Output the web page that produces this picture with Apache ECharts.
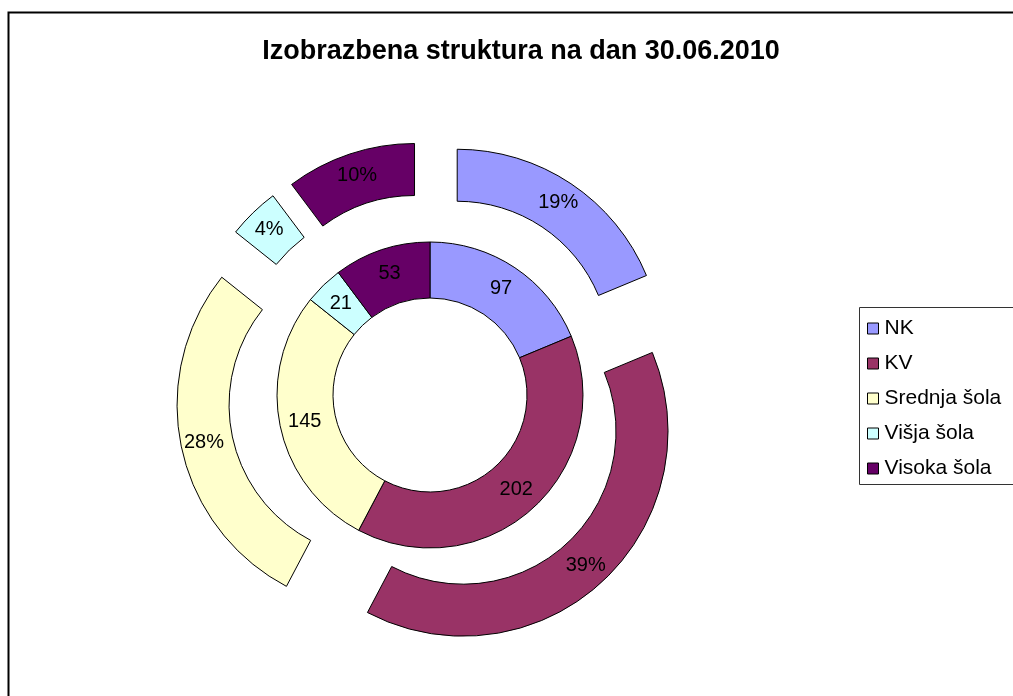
<!DOCTYPE html>
<html>
<head>
<meta charset="utf-8">
<script src="https://cdn.jsdelivr.net/npm/echarts@6/dist/echarts.min.js"></script>
<style>
  html, body { margin: 0; padding: 0; background: #fff; }
  #chart { width: 1013px; height: 696px; }
</style>
</head>
<body>
<div id="chart"></div>
<script>
const categories = ['NK', 'KV', 'Srednja šola', 'Višja šola', 'Visoka šola'];
const counts = [97, 202, 145, 21, 53];
const colors = ['#9999FF', '#993366', '#FFFFCC', '#CCFFFF', '#660066'];

const chart = echarts.init(document.getElementById('chart'));

const total = counts.reduce((a, b) => a + b, 0);

const option = {
  animation: false,
  color: colors,
  textStyle: { fontFamily: 'Liberation Sans, Arial, sans-serif' },
  title: {
    text: 'Izobrazbena struktura na dan 30.06.2010',
    left: 516,
    top: 33,
    textAlign: 'center',
    textStyle: { fontSize: 27, fontWeight: 'bold', color: '#000', fontFamily: 'Liberation Sans, Arial, sans-serif' },
  },
  legend: {
    orient: 'vertical',
    left: 862,
    top: 313,
    itemWidth: 11,
    itemHeight: 11,
    itemGap: 14,
    icon: 'rect',
    itemStyle: { borderColor: '#000', borderWidth: 1 },
    textStyle: { fontSize: 21, lineHeight: 21, color: '#000', padding: [0, 0, 0, 1] },
    data: categories,
  },
  graphic: [
    { type: 'rect', shape: { x: 8.5, y: 12.5, width: 1020, height: 700 }, style: { fill: 'none', stroke: '#000', lineWidth: 2 }, silent: true },
    { type: 'rect', shape: { x: 859.5, y: 307.5, width: 160, height: 177 }, style: { fill: 'none', stroke: '#333', lineWidth: 1 }, silent: true },
  ],
  series: [
    {
      name: 'inner',
      type: 'pie',
      center: [430, 395],
      radius: [97, 153],
      startAngle: 90,
      clockwise: true,
      silent: true,
      label: { position: 'inside', formatter: '{c}', fontSize: 20, color: '#000' },
      labelLine: { show: false },
      itemStyle: { borderColor: '#000', borderWidth: 1 },
      emphasis: { disabled: true },
      data: categories.map((name, i) => ({ name, value: counts[i] })),
    },
    {
      name: 'outer',
      type: 'pie',
      center: [430, 395],
      radius: [153, 205],
      startAngle: 90,
      clockwise: true,
      selectedMode: 'multiple',
      selectedOffset: 49,
      label: {
        position: 'inside',
        formatter: (p) => Math.round(p.value / total * 100) + '%',
        fontSize: 20,
        color: '#000',
      },
      labelLine: { show: false },
      itemStyle: { borderColor: '#000', borderWidth: 1 },
      select: { itemStyle: { borderColor: '#000', borderWidth: 1 } },
      emphasis: { disabled: true },
      data: categories.map((name, i) => ({ name, value: counts[i], selected: true })),
    },
  ],
};

chart.setOption(option);
</script>
</body>
</html>
